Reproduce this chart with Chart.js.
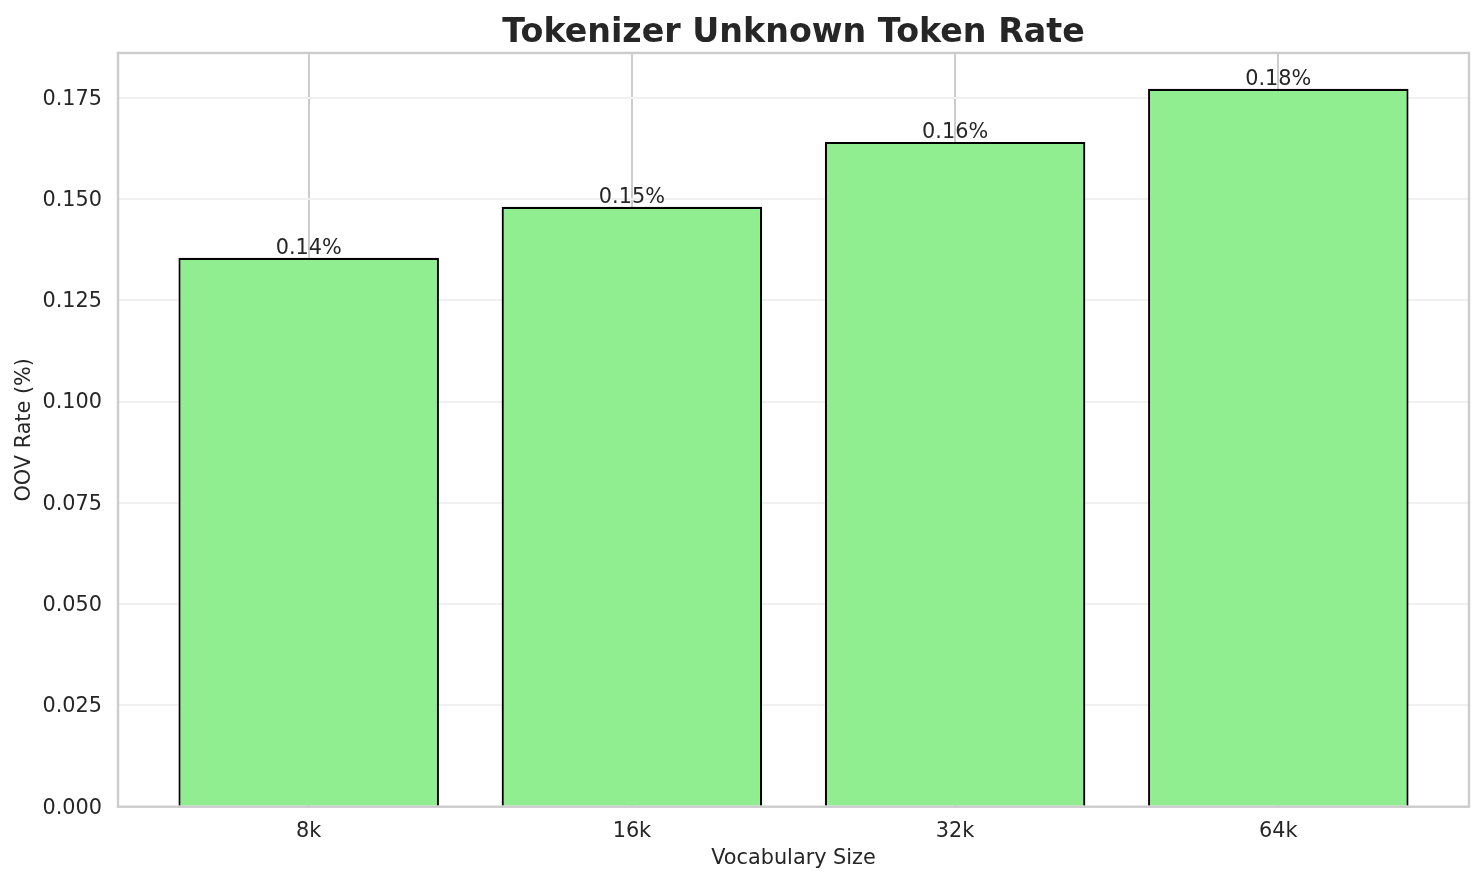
<!DOCTYPE html>
<html>
<head>
<meta charset="utf-8">
<script src="https://cdn.jsdelivr.net/npm/chart.js@4"></script>
<style>
  html, body { margin: 0; padding: 0; background: #ffffff; }
  #wrap { width: 1484px; height: 885px; position: relative; }
</style>
</head>
<body>
<div id="wrap"><canvas id="c"></canvas></div>
<script>
const categories = ['8k', '16k', '32k', '64k'];
const oovRate = [0.1355, 0.1481, 0.1641, 0.1772];
const yTicks = [0, 0.025, 0.05, 0.075, 0.1, 0.125, 0.15, 0.175];

const TEXT = '#262626';
const FONT = 'DejaVu Sans';

const framePlugin = {
  id: 'frame',
  afterDatasetsDraw(chart) {
    const a = chart.chartArea;
    const ctx = chart.ctx;
    ctx.save();
    const meta = chart.getDatasetMeta(0);
    ctx.fillStyle = TEXT;
    ctx.font = '20.8px "' + FONT + '"';
    ctx.textAlign = 'center';
    ctx.textBaseline = 'alphabetic';
    meta.data.forEach((el, i) => {
      const v = chart.data.datasets[0].data[i].y;
      ctx.fillText(v.toFixed(2) + '%', el.x, el.y - 4);
    });
    ctx.strokeStyle = '#cccccc';
    ctx.lineWidth = 2.4;
    ctx.strokeRect(a.left, a.top, a.right - a.left, a.bottom - a.top);
    ctx.restore();
  }
};

new Chart(document.getElementById('c'), {
  type: 'bar',
  data: {
    datasets: [{
      data: categories.map((c, i) => ({ x: i, y: oovRate[i] })),
      backgroundColor: '#90EE90',
      borderColor: '#000000',
      borderWidth: 2.2,
      borderSkipped: 'start',
      barPercentage: 0.806,
      categoryPercentage: 1.0
    }]
  },
  options: {
    responsive: true,
    maintainAspectRatio: false,
    animation: false,
    layout: { padding: { left: 0, right: 15, top: 0, bottom: 0 } },
    plugins: {
      legend: { display: false },
      tooltip: { enabled: false },
      title: {
        display: true,
        fullSize: false,
        text: 'Tokenizer Unknown Token Rate',
        color: TEXT,
        font: { family: FONT, size: 33.3, weight: 'bold' },
        padding: { top: 13, bottom: 0 }
      }
    },
    scales: {
      x: {
        type: 'linear',
        offset: false,
        min: -0.59,
        max: 3.59,
        afterBuildTicks(scale) { scale.ticks = categories.map((c, i) => ({ value: i })); },
        afterFit(scale) { scale.height = 78.3; },
        ticks: {
          color: TEXT,
          font: { family: FONT, size: 20.8 },
          padding: 12,
          callback: (v) => categories[v]
        },
        grid: { display: true, offset: false, color: '#cccccc', lineWidth: 2, drawTicks: false },
        border: { display: false },
        title: {
          display: true,
          text: 'Vocabulary Size',
          color: TEXT,
          font: { family: FONT, size: 20.8 },
          padding: { top: 0, bottom: 14 }
        }
      },
      y: {
        type: 'linear',
        min: 0,
        max: Math.max(...oovRate) * 1.05,
        afterBuildTicks(scale) { scale.ticks = yTicks.map(v => ({ value: v })); },
        afterFit(scale) { scale.width = 118; },
        ticks: {
          color: TEXT,
          font: { family: FONT, size: 20.8 },
          padding: 16,
          labelOffset: 1.5,
          callback: (v) => Number(v).toFixed(3)
        },
        grid: { display: true, color: '#f0f0f0', lineWidth: 2, drawTicks: false },
        border: { display: false },
        title: {
          display: true,
          text: 'OOV Rate (%)',
          color: TEXT,
          font: { family: FONT, size: 20.8 },
          padding: { top: 12, bottom: 0 }
        }
      }
    }
  },
  plugins: [framePlugin]
});
</script>
</body>
</html>
